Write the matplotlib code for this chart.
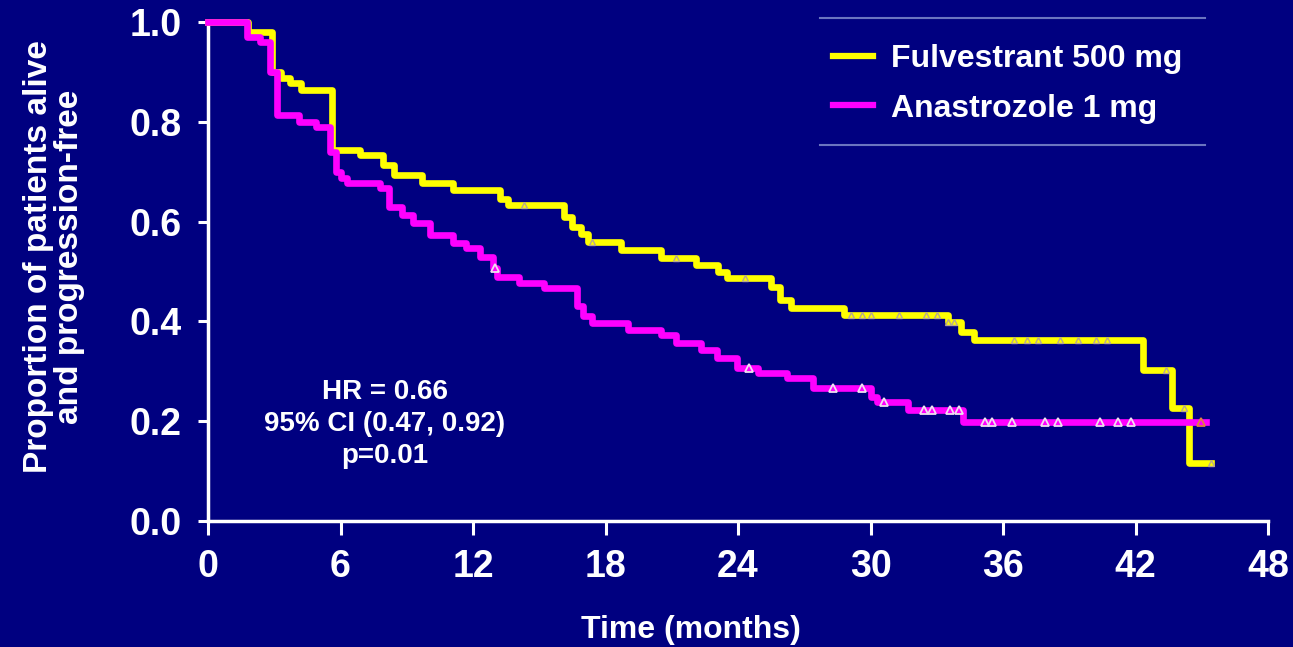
#!/usr/bin/env python3
# -*- coding: utf-8 -*-

'''
Kaplan-Meier style PFS plot, Fulvestrant 500 mg vs Anastrozole 1 mg
'''

import numpy as np
from matplotlib import pyplot as plt
from matplotlib.lines import Line2D

# Colours
BG_navy = "#000080"
FUL_yellow = "#FFFF00"
ANA_magenta = "#FF00FF"
FRAME_grey = "#6A74C0"

# Fulvestrant 500 mg: step times (months) and proportion
ful_t = [0, 1.8, 2.9, 3.3, 3.7, 4.2, 5.6, 6.9, 7.9, 8.4, 9.7, 11.1, 13.2, 13.6,
         16.1, 16.5, 16.9, 17.2, 18.7, 20.5, 22.1, 23.1, 23.5, 25.5, 25.9, 26.4,
         28.8, 33.5, 34.1, 34.7, 42.35, 43.65, 44.4, 45.4]
ful_s = [1.0, 0.98, 0.90, 0.888, 0.878, 0.864, 0.743, 0.733, 0.713, 0.693, 0.677,
         0.663, 0.645, 0.633, 0.61, 0.59, 0.575, 0.559, 0.543, 0.527, 0.513, 0.499,
         0.487, 0.469, 0.443, 0.427, 0.413, 0.399, 0.379, 0.363, 0.303, 0.226,
         0.116, 0.116]
ful_cens = [14.3, 17.4, 21.2, 24.3, 29.1, 29.6, 30.0, 31.3, 32.5, 33.0, 33.5, 33.8,
            36.5, 37.1, 37.6, 38.6, 39.4, 40.2, 40.7, 43.4, 44.2, 45.4]

# Anastrozole 1 mg
ana_t = [0, 1.75, 2.35, 2.8, 3.1, 4.1, 4.9, 5.5, 5.8, 6.0, 6.3, 7.8, 8.2, 8.8, 9.3,
         10.05, 11.1, 11.7, 12.3, 12.9, 13.1, 14.1, 15.2, 16.7, 17.0, 17.4, 19.0,
         20.5, 21.2, 22.3, 23.05, 23.95, 24.9, 26.2, 27.4, 30.0, 30.3, 31.7, 34.2,
         45.2]
ana_s = [1.0, 0.97, 0.96, 0.90, 0.814, 0.80, 0.79, 0.74, 0.70, 0.687, 0.677, 0.667,
         0.629, 0.613, 0.597, 0.573, 0.557, 0.547, 0.529, 0.507, 0.489, 0.477, 0.467,
         0.43, 0.41, 0.397, 0.383, 0.373, 0.357, 0.343, 0.327, 0.307, 0.297, 0.287,
         0.267, 0.249, 0.238, 0.222, 0.198, 0.198]
ana_cens = [13.0, 24.5, 28.3, 29.6, 30.6, 32.4, 32.8, 33.6, 34.0, 35.2, 35.5, 36.4,
            37.9, 38.5, 40.4, 41.2, 41.8]
ana_last_cens = [44.95]

x_ticks = [0, 6, 12, 18, 24, 30, 36, 42, 48]
y_ticks = [0.0, 0.2, 0.4, 0.6, 0.8, 1.0]


def step_value(times, surv, at):
    # value of a steps-post curve at given times
    idx = np.searchsorted(times, at, side='right') - 1
    return np.asarray(surv)[idx]


plt.rcParams['font.family'] = ['Liberation Sans', 'DejaVu Sans']
plt.rcParams['font.weight'] = 'bold'

fig = plt.figure(figsize=(12.93, 6.47), dpi=100, facecolor=BG_navy)
ax = fig.add_axes([0.1609, 0.1947, 0.8198, 0.7713])
ax.set_facecolor(BG_navy)

ax.plot(ful_t, ful_s, drawstyle='steps-post', color=FUL_yellow, lw=4.8,
        clip_on=False, zorder=3)
ax.plot(ana_t, ana_s, drawstyle='steps-post', color=ANA_magenta, lw=4.8,
        clip_on=False, zorder=4)

# censoring marks
ax.plot(ful_cens, step_value(ful_t, ful_s, ful_cens), ls='none', marker='^',
        ms=5, mfc='none', mec='#B8A890', mew=1.0, zorder=5, clip_on=False)
ax.plot(ana_cens, step_value(ana_t, ana_s, ana_cens), ls='none', marker='^',
        ms=6, mfc='none', mec='#F0E0F0', mew=1.3, zorder=5, clip_on=False)
ax.plot(ana_last_cens, step_value(ana_t, ana_s, ana_last_cens), ls='none',
        marker='^', ms=6, mfc='none', mec='#E08040', mew=1.3, zorder=5,
        clip_on=False)

ax.set_xlim(0, 48)
ax.set_ylim(0, 1.0)
ax.set_xticks(x_ticks)
ax.set_xticklabels([str(v) for v in x_ticks])
ax.set_yticks(y_ticks)
ax.set_yticklabels(['%.1f' % v for v in y_ticks])

for side in ['top', 'right']:
    ax.spines[side].set_visible(False)
for side in ['left', 'bottom']:
    ax.spines[side].set_color('white')
    ax.spines[side].set_linewidth(2.5)

ax.tick_params(axis='x', colors='white', length=10, width=2.2, pad=10,
               labelsize=27)
ax.tick_params(axis='y', colors='white', length=7, width=2.2, pad=12,
               labelsize=27)

ax.set_xlabel('Time (months)', color='white', fontsize=23, fontweight='bold')
ax.xaxis.set_label_coords((691 - 208) / 1060, (521 - 630) / 499)
ax.xaxis.label.set_va('center')
ax.set_ylabel('Proportion of patients alive\nand progression-free',
              color='white', fontsize=24, fontweight='bold', linespacing=1.0)
ax.yaxis.set_label_coords((54 - 208) / 1060, 0.53)
ax.yaxis.label.set_va('center')

ax.text(8.0, 0.195, 'HR = 0.66\n95% CI (0.47, 0.92)\np=0.01', color='white',
        fontsize=20, ha='center', va='center', linespacing=1.3)

# legend with only top and bottom rules
handles = [Line2D([], [], color=FUL_yellow, lw=4.5),
           Line2D([], [], color=ANA_magenta, lw=4.5)]
leg = ax.legend(handles, ['Fulvestrant 500 mg', 'Anastrozole 1 mg'],
                loc='upper left', bbox_to_anchor=((833 - 208) / 1060, 0.955),
                borderaxespad=0, borderpad=0, frameon=False,
                fontsize=23, labelcolor='white', handlelength=1.25,
                handletextpad=0.55, labelspacing=0.6)
for yy in [1 - 18 / 647, 1 - 145 / 647]:
    fig.add_artist(Line2D([820 / 1293, 1205 / 1293], [yy, yy],
                          color=FRAME_grey, lw=1.5, transform=fig.transFigure))

fig.savefig('out.png', dpi=100, facecolor=BG_navy)
